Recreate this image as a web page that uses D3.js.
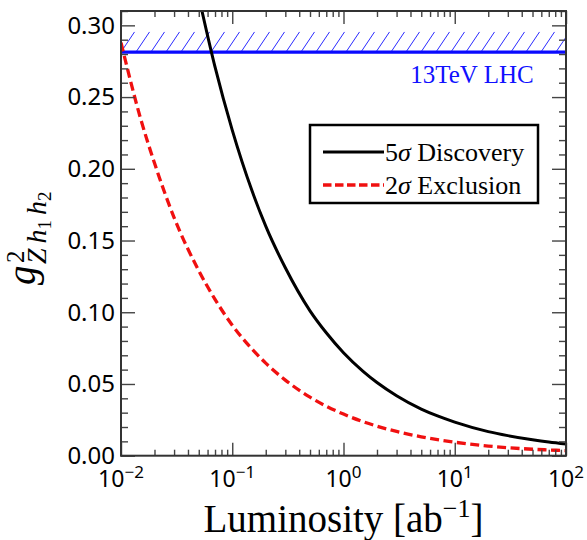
<!DOCTYPE html>
<html><head><meta charset="utf-8">
<script src="https://cdn.jsdelivr.net/npm/d3@7"></script>
<style>body{margin:0;background:#fff} svg{display:block}</style>
</head><body>
<svg id="c" width="587" height="540"></svg>
<script>
// ---- data ----
const lumDisc = [0.05, 0.07, 0.1, 0.15, 0.2, 0.3, 0.5, 0.7, 1, 1.5, 2, 3, 5, 7, 10, 20, 30, 50, 70, 100];
const gDisc   = [0.320, 0.271, 0.227, 0.185, 0.160, 0.131, 0.101, 0.0857, 0.0718, 0.0588, 0.0510, 0.0418, 0.0325, 0.0277, 0.0234, 0.0168, 0.0140, 0.0111, 0.0095, 0.0081];
const lumExcl = [0.01, 0.015, 0.02, 0.03, 0.05, 0.07, 0.1, 0.15, 0.2, 0.3, 0.5, 0.7, 1, 1.5, 2, 3, 5, 7, 10, 20, 30, 50, 70, 100];
const gExcl   = [0.288, 0.235, 0.204, 0.166, 0.129, 0.109, 0.091, 0.0745, 0.0645, 0.0527, 0.0408, 0.0345, 0.0290, 0.0237, 0.0206, 0.0169, 0.0132, 0.0112, 0.0094, 0.0067, 0.0056, 0.0045, 0.0040, 0.0035];
const lhcBound = 0.2814;
const lhcBandTop = 0.2954;
const yMajor = [0, 0.05, 0.10, 0.15, 0.20, 0.25, 0.30];
const xMajorExp = [-2, -1, 0, 1, 2];
const seriesNames = ["5\u03c3 Discovery", "2\u03c3 Exclusion"];
const lhcLabel = "13TeV LHC";

// ---- layout ----
const svg = d3.select("#c");
const L = 121, R = 566, T = 11, B = 455.7;
const x = d3.scaleLog().domain([0.01, 100]).range([L, R]);
const y = d3.scaleLinear().domain([0, 0.31]).range([B, T]);

svg.append("defs").append("clipPath").attr("id", "pc")
  .append("rect").attr("x", L).attr("y", T).attr("width", R - L).attr("height", B - T);
const plot = svg.append("g").attr("clip-path", "url(#pc)");

// hatched band
const hatch = plot.append("g");
for (let hx = L - 30; hx < R + 20; hx += 15) {
  hatch.append("line").attr("x1", hx).attr("y1", y(lhcBound))
    .attr("x2", hx + 13.5).attr("y2", y(lhcBandTop))
    .attr("stroke", "#2a2aff").attr("stroke-width", 1);
}
plot.append("line").attr("x1", L).attr("x2", R)
  .attr("y1", y(lhcBound)).attr("y2", y(lhcBound))
  .attr("stroke", "#0a0aff").attr("stroke-width", 3.2);

const line = d3.line().x(d => x(d[0])).y(d => y(d[1])).curve(d3.curveMonotoneX);
plot.append("path").datum(lumExcl.map((l, i) => [l, gExcl[i]]))
  .attr("d", line).attr("fill", "none").attr("stroke", "#f01010")
  .attr("stroke-width", 3.3).attr("stroke-dasharray", "9,4.5");
plot.append("path").datum(lumDisc.map((l, i) => [l, gDisc[i]]))
  .attr("d", line).attr("fill", "none").attr("stroke", "#000")
  .attr("stroke-width", 3);

// axes
const axCol = "#444";
const yMinor = d3.range(0, 0.3101, 0.01).filter(v => Math.abs(v * 20 - Math.round(v * 20)) > 1e-6);
const xMinor = [];
for (let e = -2; e < 2; e++) for (let k = 2; k <= 9; k++) xMinor.push(k * Math.pow(10, e));
const xMajor = xMajorExp.map(e => Math.pow(10, e));

function styleAxis(g) {
  g.select(".domain").remove();
  g.selectAll("line").attr("stroke", axCol).attr("stroke-width", 1.4);
}
// left
svg.append("g").attr("transform", `translate(${L},0)`)
  .call(d3.axisLeft(y).tickValues(yMajor).tickSize(-14).tickPadding(6).tickFormat(d3.format(".2f")))
  .call(styleAxis)
  .call(g => g.selectAll("text").attr("font-family", "Noto Sans, DejaVu Sans, sans-serif")
    .attr("font-size", 24).attr("fill", "#000").attr("dy", "0.33em"));
svg.append("g").attr("transform", `translate(${L},0)`)
  .call(d3.axisLeft(y).tickValues(yMinor).tickSize(-7).tickFormat(""))
  .call(styleAxis);
// right
svg.append("g").attr("transform", `translate(${R},0)`)
  .call(d3.axisRight(y).tickValues(yMajor).tickSize(-14).tickFormat(""))
  .call(styleAxis);
svg.append("g").attr("transform", `translate(${R},0)`)
  .call(d3.axisRight(y).tickValues(yMinor).tickSize(-7).tickFormat(""))
  .call(styleAxis);
// bottom
svg.append("g").attr("transform", `translate(0,${B})`)
  .call(d3.axisBottom(x).tickValues(xMajor).tickSize(-13).tickFormat(""))
  .call(styleAxis);
svg.append("g").attr("transform", `translate(0,${B})`)
  .call(d3.axisBottom(x).tickValues(xMinor).tickSize(-6).tickFormat(""))
  .call(styleAxis);
// top
svg.append("g").attr("transform", `translate(0,${T})`)
  .call(d3.axisTop(x).tickValues(xMajor).tickSize(-13).tickFormat(""))
  .call(styleAxis);
svg.append("g").attr("transform", `translate(0,${T})`)
  .call(d3.axisTop(x).tickValues(xMinor).tickSize(-6).tickFormat(""))
  .call(styleAxis);

// x tick labels with superscripts
xMajorExp.forEach(e => {
  const t = svg.append("text").attr("x", x(Math.pow(10, e))).attr("y", 487)
    .attr("text-anchor", "middle").attr("font-family", "Noto Sans, DejaVu Sans, sans-serif")
    .attr("font-size", 23).attr("fill", "#000");
  t.append("tspan").text("10");
  t.append("tspan").attr("font-size", 17).attr("dy", -9).text(e < 0 ? "\u2212" + (-e) : String(e));
});

// frame
svg.append("rect").attr("x", L).attr("y", T).attr("width", R - L).attr("height", B - T)
  .attr("fill", "none").attr("stroke", "#333").attr("stroke-width", 2);

// LHC label
svg.append("text").attr("x", 472).attr("y", 83).attr("text-anchor", "middle")
  .attr("font-family", "Liberation Serif, Times New Roman, serif").attr("font-size", 25)
  .attr("fill", "#1010ff").text(lhcLabel);

// legend
svg.append("rect").attr("x", 310).attr("y", 125).attr("width", 228).attr("height", 78)
  .attr("fill", "#fff").attr("stroke", "#000").attr("stroke-width", 2.5);
const legY = [152, 185];
svg.append("line").attr("x1", 323).attr("x2", 384).attr("y1", legY[0]).attr("y2", legY[0])
  .attr("stroke", "#000").attr("stroke-width", 3);
svg.append("line").attr("x1", 323).attr("x2", 384).attr("y1", legY[1]).attr("y2", legY[1])
  .attr("stroke", "#f01010").attr("stroke-width", 3.3).attr("stroke-dasharray", "8.5,3.5");
seriesNames.forEach((name, i) => {
  const t = svg.append("text").attr("x", 385).attr("y", legY[i] + 9)
    .attr("font-family", "Liberation Serif, Times New Roman, serif").attr("font-size", 26).attr("fill", "#000");
  t.append("tspan").text(name.slice(0, 1));
  t.append("tspan").attr("font-style", "italic").text(name.slice(1, 2));
  t.append("tspan").text(name.slice(2));
});

// x axis title
const xt = svg.append("text").attr("x", (L + R) / 2).attr("y", 532).attr("text-anchor", "middle")
  .attr("font-family", "Liberation Serif, Times New Roman, serif").attr("font-size", 39).attr("fill", "#000");
xt.append("tspan").text("Luminosity [ab");
xt.append("tspan").attr("font-size", 26).attr("dy", -15).text("\u22121");
xt.append("tspan").attr("dy", 15).text("]");

// y axis title  g^2_{Z h1 h2}
const yt = svg.append("g").attr("transform", `translate(35,233) rotate(-90)`)
  .attr("font-family", "Liberation Serif, Times New Roman, serif").attr("fill", "#000");
yt.append("text").attr("x", -52).attr("y", 0).attr("font-size", 39).attr("font-style", "italic").text("g");
yt.append("text").attr("x", -30).attr("y", -11).attr("font-size", 25).text("2");
const sub = yt.append("text").attr("x", -31).attr("y", 11).attr("font-size", 28).attr("font-style", "italic");
sub.append("tspan").text("Z");
sub.append("tspan").attr("dx", 5).text("h");
sub.append("tspan").attr("font-size", 19).attr("font-style", "normal").attr("dy", 5).text("1");
sub.append("tspan").attr("dx", 5).attr("dy", -5).text("h");
sub.append("tspan").attr("font-size", 19).attr("font-style", "normal").attr("dy", 5).text("2");
</script>
</body></html>
